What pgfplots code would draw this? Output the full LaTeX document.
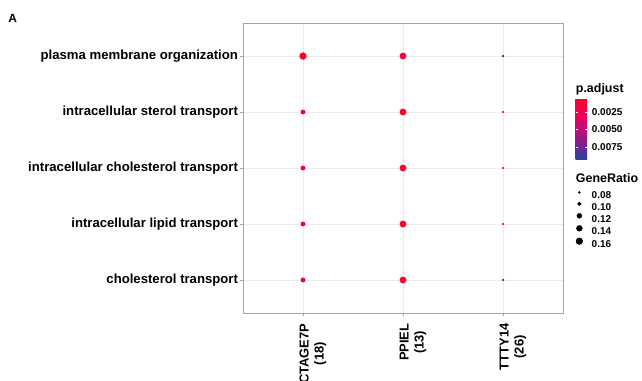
\documentclass[border=0pt]{standalone}
\usepackage{pgfplots}
\pgfplotsset{compat=1.18}
\usepackage{fontspec}
\setmainfont{Liberation Sans}
\definecolor{gridc}{RGB}{235,235,235}
\definecolor{boxc}{RGB}{165,165,165}
\definecolor{cbl}{RGB}{40,65,160}
\definecolor{cpu}{RGB}{165,20,130}
\definecolor{cmg}{RGB}{232,0,90}
\definecolor{crd}{RGB}{255,0,42}
\colorlet{c0015}{crd!61!cmg}
\colorlet{c0008}{crd!87!cmg}
\colorlet{c0036}{cmg!82!cpu}
\begin{document}
\begin{tikzpicture}[x=1bp,y=1bp]
\useasboundingbox (0,0) rectangle (642,380);
\clip (0,0) rectangle (642,380);
\node[anchor=north west,font=\bfseries\fontsize{12}{13}\selectfont,inner sep=0pt] at (8.3,366) {A};
\begin{axis}[
  at={(243bp,67bp)}, anchor=south west,
  scale only axis, width=320bp, height=290bp,
  xmin=0.4, xmax=3.6, ymin=0.41, ymax=5.59,
  xtick={1,2,3}, ytick={1,2,3,4,5},
  xticklabels={{CTAGE7P\\(18)},{PPIEL\\(13)},{TTTY14\\(26)}},
  yticklabels={cholesterol transport,intracellular lipid transport~,intracellular cholesterol transport~,intracellular sterol transport,plasma membrane organization},
  xticklabel style={xshift=10bp, yshift=-4bp, rotate=90, anchor=east, align=center, font=\bfseries\fontsize{13}{15}\selectfont},
  yticklabel style={xshift=1.5bp, font=\bfseries\fontsize{13.2}{15}\selectfont},
  tick align=outside, major tick length=3bp,
  tick style={boxc, line width=0.5pt},
  xtick pos=bottom, ytick pos=left,
  grid=major, major grid style={gridc, line width=0.7pt},
  axis line style={boxc, line width=0.8pt},
  colormap={padj}{color(0cm)=(cbl) color(4cm)=(cpu) color(7cm)=(cmg) color(10cm)=(crd)},
  point meta min=-0.0094, point meta max=-0.00044,
  colorbar,
  colorbar style={
    at={(1.0397,0.7414)}, anchor=north west,
    width=11.3bp, height=62bp,
    ytick={-0.0075,-0.005,-0.0025},
    yticklabels={0.0075,0.0050,0.0025},
    yticklabel style={font=\bfseries\fontsize{10}{12}\selectfont, xshift=1.4bp},
    axis line style={draw=none},
    major tick length=2.5bp,
    tick style={white, line width=0.6pt},
    tick align=inside,
    scaled y ticks=false,
    grid=none,
  },
  legend style={
    at={(1.0406,0.4193)}, anchor=north west,
    draw=none, fill=none,
    font=\bfseries\fontsize{10}{12}\selectfont,
    row sep=1.7bp, column sep=9bp, inner sep=0pt, outer sep=0pt,
    nodes={inner sep=0pt, outer sep=0pt},
    legend cell align=left,
  },
  legend image code/.code={\draw[#1] plot coordinates {(0bp,3.6bp)};},
]
% p.adjust ~0.0005 (red)
\addplot[only marks, mark=*, mark size=3.4, color=crd, mark options={draw=none, fill=crd}, forget plot] coordinates {(1,5)};
\addplot[only marks, mark=*, mark size=2.2, color=crd, mark options={draw=none, fill=crd}, forget plot] coordinates {(1,4) (1,3) (1,2)};
\addplot[only marks, mark=*, mark size=3.2, color=crd, mark options={draw=none, fill=crd}, forget plot] coordinates {(2,4) (2,3) (2,2)};
\addplot[only marks, mark=*, mark size=0.9, color=crd, mark options={draw=none, fill=crd}, forget plot] coordinates {(3,4) (3,3) (3,2)};
% p.adjust ~0.0036
\addplot[only marks, mark=*, mark size=2.2, color=c0036, mark options={draw=none, fill=c0036}, forget plot] coordinates {(1,1)};
% p.adjust ~0.0015 and ~0.0008
\addplot[only marks, mark=*, mark size=3.2, color=c0015, mark options={draw=none, fill=c0015}, forget plot] coordinates {(2,5)};
\addplot[only marks, mark=*, mark size=3.2, color=c0008, mark options={draw=none, fill=c0008}, forget plot] coordinates {(2,1)};
% p.adjust ~0.0094 (blue)
\addplot[only marks, mark=*, mark size=1.0, color=cbl, mark options={draw=none, fill=cbl}, forget plot] coordinates {(3,5) (3,1)};
\addlegendimage{only marks, mark=*, black, mark size=1.0}
\addlegendentry{0.08}
\addlegendimage{only marks, mark=*, black, mark size=1.9}
\addlegendentry{0.10}
\addlegendimage{only marks, mark=*, black, mark size=2.49}
\addlegendentry{0.12}
\addlegendimage{only marks, mark=*, black, mark size=2.96}
\addlegendentry{0.14}
\addlegendimage{only marks, mark=*, black, mark size=3.37}
\addlegendentry{0.16}
\end{axis}
\node[anchor=base west,font=\bfseries\fontsize{12.5}{14}\selectfont,inner sep=0pt] at (575.7,287.3) {p.adjust};
\node[anchor=base west,font=\bfseries\fontsize{12.5}{14}\selectfont,inner sep=0pt] at (575.7,197.5) {GeneRatio};
\end{tikzpicture}
\end{document}
